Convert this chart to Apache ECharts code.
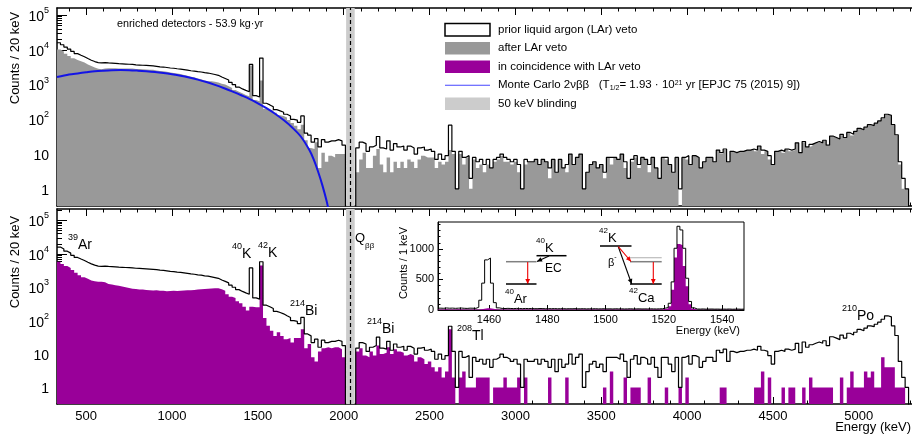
<!DOCTYPE html>
<html>
<head>
<meta charset="utf-8">
<script src="https://cdn.jsdelivr.net/npm/echarts@6.0.0/dist/echarts.min.js"></script>
<style>
html,body{margin:0;padding:0;background:#fff;}
#chart{width:912px;height:435px;}
</style>
</head>
<body>
<div id="chart"></div>
<script>
// ---------------- data ----------------
const binStart = 330;      // lower edge of first 20 keV bin
const binWidth = 20;
const priorCounts = [
 16000,14000,12000,10500,9000,7800,7000,6300,5600,5000,
 4600,4300,4200,4300,4200,4150,4100,4000,3950,3900,
 3850,3800,3700,3650,3600,3550,3500,3450,3350,3250,
 3200,3100,3000,2950,2850,2800,2700,2600,2500,2450,
 2350,2300,2200,2150,2050,1950,1850,1650,1500,1350,
 1150,1000,850,750,680,620,3800,480,440,5800,
 290,260,230,190,175,160,140,125,100,95,
 82,125,40,35,22,28,16,26,22,24,
 24,26,24,18,0,0,0,15,22,20,
 12,16,18,32,15,14,24,13,20,16,
 17,13,17,15,10,15,16,13,14,12,
 7,10,7,9,68,12,1,12,8,9,
 2,8,6,7,5,7,4,7,8,10,
 8,7,6,7,5,1,7,6,6,7,
 5,7,6,4,7,3,7,4,5,10,
 5,8,10,1,3,5,6,4,5,3,
 8,8,8,7,10,6,2,7,9,5,
 8,7,5,8,4,2,8,8,5,3,
 8,1,8,9,5,9,8,4,6,8,
 8,6,13,11,14,6,12,11,12,12,
 13,13,14,13,17,13,12,9,5,12,
 13,12,14,13,14,21,11,23,16,19,
 21,23,21,25,18,33,30,27,37,30,
 42,37,45,55,50,60,70,66,78,90,
 110,140,130,70,36,6,2,1,0];
const afterVetoCounts = [
 10200,9000,7700,6700,5700,5100,4700,4300,3800,3400,
 3100,2850,2750,2900,2950,2950,2950,2900,2900,2900,
 2900,2900,2820,2790,2750,2720,2680,2650,2540,2460,
 2420,2340,2230,2170,2080,2010,1900,1790,1680,1620,
 1500,1430,1320,1250,1250,1200,1150,1050,1000,900,
 800,700,620,560,500,460,3540,360,330,1300,
 200,190,180,155,130,125,112,95,78,65,
 52,70,25,15,14,22,4,11,6,9,
 8,10,10,10,0,0,0,3,7,11,
 4,4,9,14,5,3,8,3,6,4,
 6,4,7,6,4,7,9,8,8,8,
 4,6,5,6,13,10,1,10,5,8,
 1,7,4,5,3,5,4,6,7,9,
 6,6,5,6,3,1,5,6,6,7,
 5,7,6,2,7,3,7,4,3,10,
 5,8,10,1,3,5,6,4,5,2,
 8,5,8,7,10,4,2,6,8,4,
 8,7,3,8,4,2,8,7,5,3,
 8,0,8,7,5,9,8,4,6,8,
 8,6,13,10,13,6,12,11,12,12,
 13,13,14,12,16,10,12,7,5,12,
 13,11,14,12,13,21,11,22,16,17,
 20,22,20,24,17,32,30,27,35,30,
 41,34,44,54,49,57,68,63,77,89,
 102,136,126,66,35,5,1,1,0];
const coincidenceCounts = [
 5800,5000,4300,3800,3300,2700,2300,2000,1800,1600,
 1500,1450,1450,1400,1250,1200,1150,1100,1050,1000,
 950,900,880,860,850,830,820,800,810,790,
 780,760,770,780,770,790,800,810,820,830,
 850,870,880,900,920,940,930,870,780,620,
 520,480,380,330,260,200,260,250,250,4500,
 120,70,50,35,45,35,28,30,22,30,
 30,55,15,20,8,6,12,15,16,15,
 16,16,14,8,0,0,0,12,15,9,
 8,12,9,18,10,11,16,10,14,12,
 11,9,10,9,6,8,7,5,6,4,
 3,4,2,3,55,2,0,2,3,1,
 1,1,2,2,2,2,0,1,1,1,
 2,1,1,1,2,0,2,0,0,0,
 0,0,0,2,0,0,0,0,2,0,
 0,0,0,0,0,0,0,0,0,1,
 0,3,0,0,0,2,0,1,1,1,
 0,0,2,0,0,0,0,1,0,0,
 0,1,0,2,0,0,0,0,0,0,
 0,0,0,1,1,0,0,0,0,0,
 0,0,0,1,1,3,0,2,0,0,
 0,1,0,1,1,0,0,1,0,2,
 1,1,1,1,1,1,0,0,2,0,
 1,3,1,1,1,3,2,3,1,1,
 8,4,4,4,1,1,1,0,0];
const mcEnergy = [330,400,450,500,550,600,650,700,750,800,850,900,950,1000,1050,1100,1150,1200,1250,1300,1350,1400,1450,1500,1550,1600,1650,1700,1750,1800,1825,1850,1875,1900,1925];
const mcCounts = [1650,1950,2100,2250,2400,2500,2580,2620,2600,2520,2420,2300,2150,1980,1800,1600,1390,1180,980,800,640,500,390,290,210,145,95,58,32,13,7,3.2,1.3,0.45,0.12];

const insetBinStart = 1442.5;  // 1 keV bins
const insetBinWidth = 1;
const insetPrior = [
 30,28,33,29,31,27,30,32,28,26,30,29,27,
 45,160,440,820,850,440,120,35,
 26,24,27,25,23,26,24,22,25,23,
 24,22,21,24,23,20,22,21,23,20,
 21,22,19,21,20,22,19,20,21,18,
 20,19,21,18,19,20,18,19,17,20,
 18,19,17,18,20,17,18,19,17,18,
 17,19,18,17,19,20,30,
 40,110,460,1010,1370,1310,1010,520,140,35,
 16,15,17,14,15,16,14,15,13,15,14,16,13,14,15,13,14];
const insetCoincidence = [
 10,9,11,10,9,10,11,9,10,9,10,9,10,
 10,14,20,28,30,20,12,10,
 9,8,10,9,8,9,10,8,9,8,
 9,8,8,9,7,8,9,8,7,8,
 8,7,8,9,7,8,7,8,8,7,
 8,7,8,7,8,7,7,8,7,8,
 7,8,7,7,8,7,7,8,7,7,
 7,8,7,8,9,10,15,
 25,60,330,860,1080,1060,720,390,95,20,
 6,5,5,6,5,4,5,5,4,5,4,5,4,4,5,4,4];

const xTickLabels = [500,1000,1500,2000,2500,3000,3500,4000,4500,5000];
const yTickLabels = [1,10,100,1000,10000,100000];
const insetXTickLabels = [1460,1480,1500,1520,1540];
const insetYTickLabels = [0,500,1000];
const legendLabels = ['prior liquid argon (LAr) veto','after LAr veto','in coincidence with LAr veto',
  'Monte Carlo 2νββ   (T{sub|1/2}= 1.93 · 10{sup|21} yr [EPJC 75 (2015) 9])','50 keV blinding'];
const qbb = 2039, blindLo = 2014, blindHi = 2064;

// ---------------- layout / style ----------------
const FONT = '"Liberation Sans", Arial, Helvetica, sans-serif';
const X_MIN = 330, X_MAX = 5310;
const Y_MIN = 0.32, Y_MAX_TOP = 1.6e5, Y_MAX_BOT = 2.2e5;
const FLOOR = 1e-3; // draw empty bins below the axis so the outline drops to the frame
const C_GRAY = '#999999', C_PURPLE = '#990099', C_BLUE = '#1414e6', C_BAND = '#cccccc';
const plain = v => String(v);

function stepData(counts, lo, w, floor) {
  const pts = counts.map((c, i) => [lo + i * w, c > 0 ? c : floor]);
  const last = counts[counts.length - 1];
  pts.push([lo + counts.length * w, last > 0 ? last : floor]);
  return pts;
}
const xMinor = [];
for (let e = 400; e <= 5300; e += 100) if (e % 500) xMinor.push(e);
function logMinor(max) {
  const out = [];
  for (let k = -1; k <= 5; k++) for (let m = 2; m <= 9; m++) {
    const v = m * Math.pow(10, k);
    if (v > Y_MIN && v < max) out.push(v);
  }
  return out;
}
const insetXMinor = [];
for (let e = 1445; e <= 1545; e += 5) if (insetXTickLabels.indexOf(e) < 0) insetXMinor.push(e);
const insetYMinor = [];
for (let c = 100; c <= 1400; c += 100) if (c % 500) insetYMinor.push(c);

const AX = {color: '#000', width: 1.5};
function xAxesFor(grid, withLabels) {
  const base = {gridIndex: grid, type: 'value', min: X_MIN, max: X_MAX, splitLine: {show: false}, axisLabel: {show: false}};
  return [
    Object.assign({}, base, {position: 'bottom',
      axisLine: {show: true, onZero: false, lineStyle: AX},
      axisTick: {show: true, inside: true, length: 7, customValues: xTickLabels, lineStyle: {color: '#000', width: 1}},
      axisLabel: withLabels ? {show: true, customValues: xTickLabels, formatter: plain, color: '#000', fontSize: 13, fontFamily: FONT, margin: 6} : {show: false}}),
    Object.assign({}, base, {position: 'bottom', axisLine: {show: false, onZero: false},
      axisTick: {show: true, inside: true, length: 3.5, customValues: xMinor, lineStyle: {color: '#000', width: 1}}}),
    Object.assign({}, base, {position: 'top', axisLine: {show: true, onZero: false, lineStyle: AX},
      axisTick: {show: true, inside: true, length: 7, customValues: xTickLabels, lineStyle: {color: '#000', width: 1}}}),
    Object.assign({}, base, {position: 'top', axisLine: {show: false, onZero: false},
      axisTick: {show: true, inside: true, length: 3.5, customValues: xMinor, lineStyle: {color: '#000', width: 1}}})
  ];
}
const yRich = {
  n: {fontSize: 14, fontFamily: FONT, color: '#000', lineHeight: 18, verticalAlign: 'bottom'},
  s: {fontSize: 9, fontFamily: FONT, color: '#000', lineHeight: 8, verticalAlign: 'top'}
};
function yFmt(v) {
  const e = Math.round(Math.log10(v));
  if (e === 0) return '{n|1}';
  if (e === 1) return '{n|10}';
  return '{n|10}{s|' + e + '}';
}
function yAxesFor(grid, max) {
  return [
    {gridIndex: grid, type: 'log', min: Y_MIN, max: max, position: 'left', splitLine: {show: false},
     axisLine: {show: true, onZero: false, lineStyle: AX},
     axisTick: {show: true, inside: true, length: 10, customValues: yTickLabels, lineStyle: {color: '#000', width: 1}},
     axisLabel: {show: true, customValues: yTickLabels, formatter: yFmt, rich: yRich, margin: 8}},
    {gridIndex: grid, type: 'log', min: Y_MIN, max: max, position: 'left', splitLine: {show: false},
     axisLine: {show: false, onZero: false},
     axisTick: {show: true, inside: true, length: 5, customValues: logMinor(max), lineStyle: {color: '#000', width: 1}},
     axisLabel: {show: false}}
  ];
}

const insetX = [
  {gridIndex: 2, type: 'value', min: insetBinStart, max: insetBinStart + insetPrior.length * insetBinWidth, z: 11,
   position: 'bottom', splitLine: {show: false}, axisLine: {show: true, onZero: false, lineStyle: {color: '#000', width: 1}},
   axisTick: {show: true, inside: true, length: 5, customValues: insetXTickLabels, lineStyle: {color: '#000'}},
   axisLabel: {show: true, customValues: insetXTickLabels, formatter: plain, color: '#000', fontSize: 11, fontFamily: FONT, margin: 4}},
  {gridIndex: 2, type: 'value', min: insetBinStart, max: insetBinStart + insetPrior.length * insetBinWidth, z: 11,
   position: 'bottom', splitLine: {show: false}, axisLine: {show: false, onZero: false},
   axisTick: {show: true, inside: true, length: 2.5, customValues: insetXMinor, lineStyle: {color: '#000'}},
   axisLabel: {show: false}}
];
const insetY = [
  {gridIndex: 2, type: 'value', min: 0, max: 1440, z: 11, position: 'left', splitLine: {show: false},
   axisLine: {show: true, onZero: false, lineStyle: {color: '#000', width: 1}},
   axisTick: {show: true, inside: true, length: 5, customValues: insetYTickLabels, lineStyle: {color: '#000'}},
   axisLabel: {show: true, customValues: insetYTickLabels, formatter: plain, color: '#000', fontSize: 11, fontFamily: FONT, margin: 4}},
  {gridIndex: 2, type: 'value', min: 0, max: 1440, z: 11, position: 'left', splitLine: {show: false},
   axisLine: {show: false, onZero: false},
   axisTick: {show: true, inside: true, length: 2.5, customValues: insetYMinor, lineStyle: {color: '#000'}},
   axisLabel: {show: false}}
];

function fillSeries(name, counts, color, xi, yi, z) {
  return {type: 'line', name: name, xAxisIndex: xi, yAxisIndex: yi, step: 'end', symbol: 'none',
    data: stepData(counts, binStart, binWidth, FLOOR), lineStyle: {width: 0}, areaStyle: {color: color, opacity: 1}, z: z, silent: true};
}
function outlineSeries(name, xi, yi, z) {
  return {type: 'line', name: name, xAxisIndex: xi, yAxisIndex: yi, step: 'end', symbol: 'none',
    data: stepData(priorCounts, binStart, binWidth, FLOOR), lineStyle: {color: '#000', width: 1.2}, z: z, silent: true};
}
function blindSeries(xi, yi) {
  return {type: 'line', xAxisIndex: xi, yAxisIndex: yi, data: [[qbb, 1]], symbol: 'none', lineStyle: {width: 0}, z: 6, silent: true,
    markArea: {silent: true, itemStyle: {color: C_BAND}, data: [[{xAxis: blindLo}, {xAxis: blindHi}]]},
    markLine: {silent: true, symbol: ['none', 'none'], label: {show: false}, lineStyle: {color: '#000', type: [4, 3], width: 1.2}, data: [{xAxis: qbb}]}};
}

const series = [
  fillSeries('after LAr veto', afterVetoCounts, C_GRAY, 0, 0, 2),
  outlineSeries('prior LAr veto', 0, 0, 3),
  {type: 'line', name: 'Monte Carlo 2vbb', xAxisIndex: 0, yAxisIndex: 0, symbol: 'none', smooth: 0.3,
   data: mcEnergy.map((e, i) => [e, mcCounts[i]]), lineStyle: {color: C_BLUE, width: 2}, z: 4, silent: true},
  blindSeries(0, 0),
  fillSeries('in coincidence with LAr veto', coincidenceCounts, C_PURPLE, 4, 2, 2),
  outlineSeries('prior LAr veto (bottom)', 4, 2, 3),
  blindSeries(4, 2),
  {type: 'line', xAxisIndex: 8, yAxisIndex: 4, step: 'end', symbol: 'none', z: 12, silent: true,
   data: stepData(insetCoincidence, insetBinStart, insetBinWidth, 0), lineStyle: {width: 0}, areaStyle: {color: C_PURPLE, opacity: 1}},
  {type: 'line', xAxisIndex: 8, yAxisIndex: 4, step: 'end', symbol: 'none', z: 13, silent: true,
   data: stepData(insetPrior, insetBinStart, insetBinWidth, 0), lineStyle: {color: '#000', width: 1}}
];

// ---------------- decorations (text, legend, decay schemes) ----------------
const G = [];
function txt(x, y, text, size, opts) {
  G.push(Object.assign({type: 'text', x: x, y: y, z: 30, silent: true,
    style: Object.assign({text: text, fill: '#000', fontSize: size, fontFamily: FONT, align: 'left', verticalAlign: 'middle'}, (opts && opts.style) || {})},
    opts && opts.rotation ? {rotation: opts.rotation} : {}));
}
function supTxt(x, y, sup, main, size, align) {
  G.push({type: 'text', x: x, y: y, z: 30, silent: true, style: {
    text: '{s|' + sup + '}{m|' + main + '}', align: align || 'left', verticalAlign: 'middle',
    rich: {s: {fontSize: Math.round(size * 0.64), fontFamily: FONT, fill: '#000', lineHeight: 8, verticalAlign: 'top'},
           m: {fontSize: size, fontFamily: FONT, fill: '#000', lineHeight: size + 5, verticalAlign: 'bottom'}}}});
}
function line(x1, y1, x2, y2, color, w) {
  G.push({type: 'line', z: 30, silent: true, shape: {x1: x1, y1: y1, x2: x2, y2: y2}, style: {stroke: color, lineWidth: w || 1.2}});
}
function arrow(x1, y1, x2, y2, color) {
  line(x1, y1, x2, y2, color, 1.1);
  const a = Math.atan2(y2 - y1, x2 - x1), L = 5, W = 2.4;
  const bx = x2 - L * Math.cos(a), by = y2 - L * Math.sin(a);
  G.push({type: 'polygon', z: 31, silent: true, shape: {points: [[x2, y2],
    [bx + W * Math.sin(a), by - W * Math.cos(a)], [bx - W * Math.sin(a), by + W * Math.cos(a)]]}, style: {fill: color}});
}

// axis titles
txt(15, 58, 'Counts / 20 keV', 13, {rotation: Math.PI / 2, style: {align: 'center'}});
txt(15, 262, 'Counts / 20 keV', 13, {rotation: Math.PI / 2, style: {align: 'center'}});
txt(911, 427, 'Energy (keV)', 13, {style: {align: 'right'}});
txt(117, 24, 'enriched detectors - 53.9 kg·yr', 10.8);

// legend
const legTop = 23.5, legGap = 18.5, legX = 445, legW = 45, legH = 12.5;
const legStyles = [
  {fill: '#fff', stroke: '#000', lineWidth: 1.5},
  {fill: C_GRAY}, {fill: C_PURPLE}, null, {fill: C_BAND}];
legendLabels.forEach((lab, i) => {
  const y = legTop + i * legGap;
  if (legStyles[i]) G.push({type: 'rect', z: 30, silent: true, shape: {x: legX, y: y, width: legW, height: legH}, style: legStyles[i]});
  else line(legX, y + legH / 2, legX + legW, y + legH / 2, '#4646ff', 1.2);
  G.push({type: 'text', x: 498, y: y + legH / 2, z: 30, silent: true, style: {text: lab, align: 'left', verticalAlign: 'middle',
    fontSize: 11.5, fontFamily: FONT, fill: '#000',
    rich: {sub: {fontSize: 7, fontFamily: FONT, fill: '#000', lineHeight: 6, verticalAlign: 'bottom'},
           sup: {fontSize: 7, fontFamily: FONT, fill: '#000', lineHeight: 6, verticalAlign: 'top'}}}});
});

// peak annotations (bottom panel)
supTxt(68, 243, '39', 'Ar', 14);
supTxt(232, 252, '40', 'K', 14);
supTxt(258, 251, '42', 'K', 14);
supTxt(290, 309, '214', 'Bi', 14);
supTxt(367, 327, '214', 'Bi', 14);
supTxt(457, 334, '208', 'Tl', 14);
supTxt(842, 314, '210', 'Po', 14);
G.push({type: 'text', x: 355, y: 241, z: 30, silent: true, style: {text: '{m|Q}{s|ββ}', align: 'left', verticalAlign: 'middle',
  rich: {m: {fontSize: 13, fontFamily: FONT, fill: '#000', lineHeight: 18, verticalAlign: 'top'},
         s: {fontSize: 8, fontFamily: FONT, fill: '#000', lineHeight: 8, verticalAlign: 'bottom'}}}});

// inset titles
txt(404, 263, 'Counts / 1 keV', 11, {rotation: Math.PI / 2, style: {align: 'center'}});
txt(740, 331, 'Energy (keV)', 11, {style: {align: 'right'}});

// 40K decay scheme
supTxt(536, 246, '40', 'K', 13);
line(536.5, 255.7, 566.5, 255.7, '#000', 1.5);
line(506, 261.7, 536.5, 261.7, '#808080', 1.5);
arrow(549, 256, 537, 261.5, '#000');
txt(545, 269, 'EC', 12);
arrow(527.7, 262, 527.7, 284, '#ee0000');
line(506, 284, 536.5, 284, '#000', 1.5);
supTxt(505, 297, '40', 'Ar', 13);
// 42K decay scheme
supTxt(599, 236, '42', 'K', 13);
line(600, 246, 631.5, 246, '#000', 1.5);
line(630, 257.7, 661.7, 257.7, '#bbbbbb', 1.2);
line(630, 261.7, 661.7, 261.7, '#808080', 1.5);
line(630, 284, 661.7, 284, '#000', 1.5);
supTxt(629, 296, '42', 'Ca', 13);
G.push({type: 'text', x: 608, y: 261, z: 30, silent: true, style: {text: '{m|β}{s|-}', align: 'left', verticalAlign: 'middle',
  rich: {m: {fontSize: 11, fontFamily: FONT, fill: '#000', lineHeight: 15, verticalAlign: 'bottom'},
         s: {fontSize: 7, fontFamily: FONT, fill: '#000', lineHeight: 7, verticalAlign: 'top'}}}});
arrow(618.3, 246.7, 631.7, 284, '#000');
arrow(618.3, 246.7, 631, 261.5, '#ee0000');
arrow(653.3, 262, 653.3, 284, '#ee0000');

const option = {
  animation: false,
  backgroundColor: '#fff',
  grid: [
    {left: 57, top: 8, width: 855, height: 198},
    {left: 57, top: 209, width: 855, height: 195},
    {left: 438, top: 222, width: 306, height: 88, show: true, backgroundColor: '#fff', borderColor: '#000', borderWidth: 1, z: 10}
  ],
  xAxis: [].concat(xAxesFor(0, false), xAxesFor(1, true), insetX),
  yAxis: [].concat(yAxesFor(0, Y_MAX_TOP), yAxesFor(1, Y_MAX_BOT), insetY),
  series: series,
  graphic: {elements: G}
};
const chart = echarts.init(document.getElementById('chart'));
chart.setOption(option);
</script>
</body>
</html>
